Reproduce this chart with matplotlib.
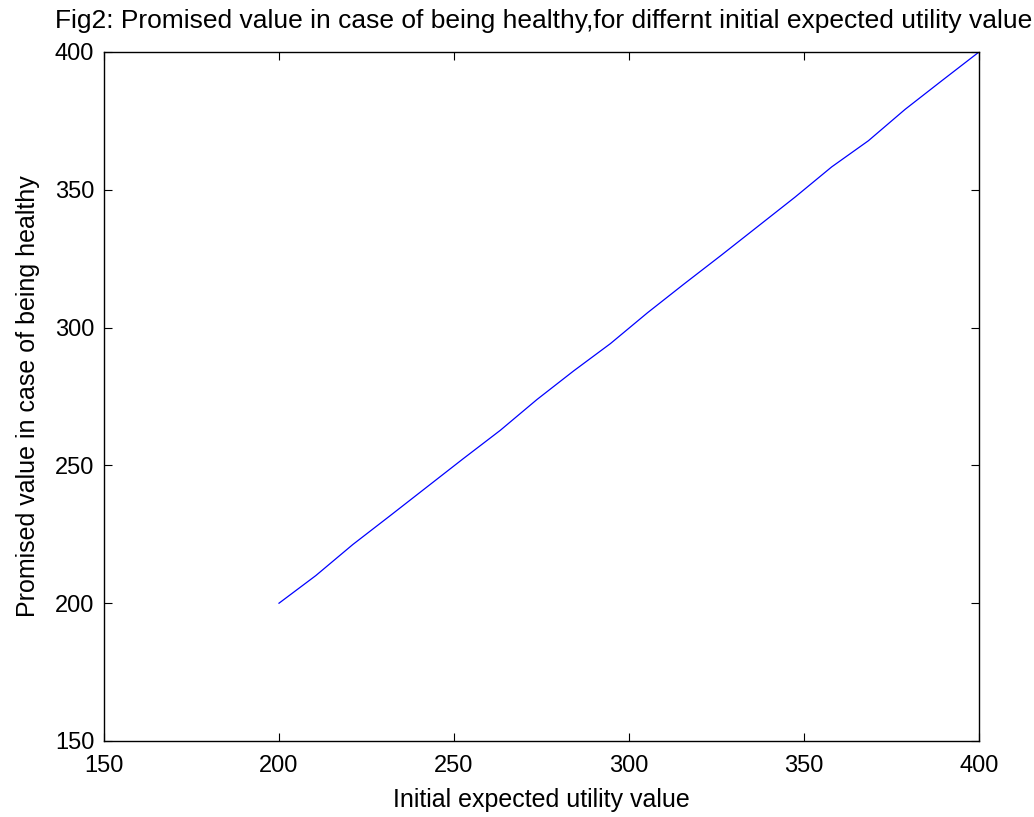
import matplotlib
matplotlib.use("Agg")
import matplotlib.pyplot as plt

# initial expected utility value vs promised value if healthy
initial_value = [200.0, 210.5, 221.1, 231.6, 242.1, 252.6, 263.2, 273.7, 284.2, 294.7,
                 305.3, 315.8, 326.3, 336.8, 347.4, 357.9, 368.4, 378.9, 389.5, 400.0]
promised_healthy = [200.0, 210.0, 221.3, 231.6, 242.0, 252.4, 262.7, 273.9, 284.3, 294.2,
                    305.4, 315.9, 326.2, 336.7, 347.3, 358.3, 367.8, 379.2, 389.7, 400.0]
x_ticks = [150, 200, 250, 300, 350, 400]
y_ticks = [150, 200, 250, 300, 350, 400]

plt.rcParams["font.family"] = ["Liberation Sans", "DejaVu Sans"]

fig = plt.figure(figsize=(10.34, 8.17), dpi=100)
ax = fig.add_axes([104 / 1034, 1 - 741 / 817, 875 / 1034, 689 / 817])

ax.plot(initial_value, promised_healthy, color="#0000ff", linewidth=0.9)

ax.set_xlim(150, 400)
ax.set_ylim(150, 400)
ax.set_xticks(x_ticks)
ax.set_yticks(y_ticks)
ax.tick_params(direction="in", length=6, width=0.8, top=True, right=True,
               labelsize=17)
ax.tick_params(axis="x", pad=10)
ax.tick_params(axis="y", pad=7)
for s in ax.spines.values():
    s.set_linewidth(1.0)

ax.set_xlabel("Initial expected utility value", fontsize=18, labelpad=8)
ax.set_ylabel("Promised value in case of being healthy", fontsize=18, labelpad=11)

fig.text(55 / 1034, 1 - 28 / 817, "Fig2: Promised value in case of being healthy,for differnt initial expected utility value",
         fontsize=19, ha="left", va="baseline")

fig.savefig("out.png", dpi=100)
